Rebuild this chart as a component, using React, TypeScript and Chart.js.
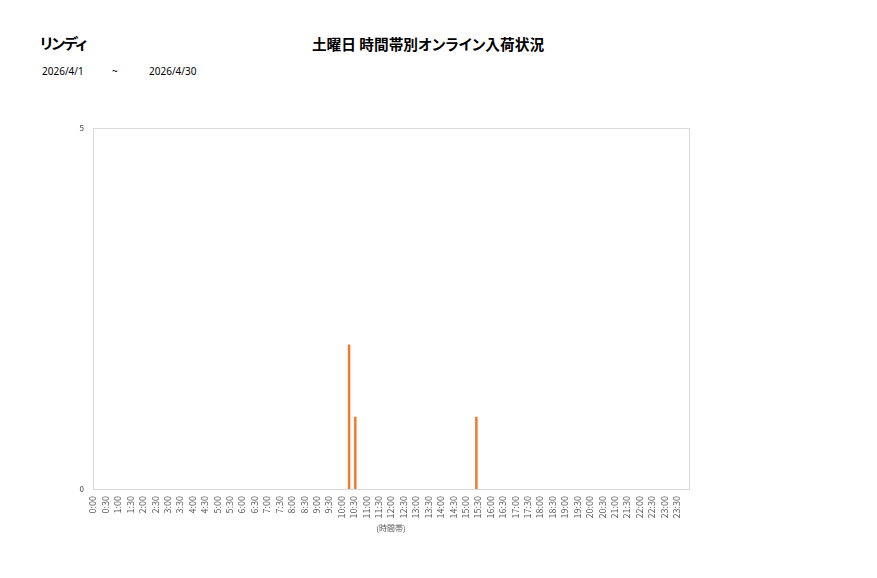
import { Chart, registerables } from "chart.js"
import React, { useEffect, useRef } from "react"

Chart.register(...registerables)

const shopName = "リンディ"
const chartTitle = "土曜日 時間帯別オンライン入荷状況"
const dateFrom = "2026/4/1"
const dateTo = "2026/4/30"
const axisTitle = "(時間帯)"

const timeLabels = [
  "0:00", "0:30", "1:00", "1:30", "2:00", "2:30", "3:00", "3:30",
  "4:00", "4:30", "5:00", "5:30", "6:00", "6:30", "7:00", "7:30",
  "8:00", "8:30", "9:00", "9:30", "10:00", "10:30", "11:00", "11:30",
  "12:00", "12:30", "13:00", "13:30", "14:00", "14:30", "15:00", "15:30",
  "16:00", "16:30", "17:00", "17:30", "18:00", "18:30", "19:00", "19:30",
  "20:00", "20:30", "21:00", "21:30", "22:00", "22:30", "23:00", "23:30",
]

// one series per Saturday in the period
const seriesNames = ["4/4", "4/11", "4/18", "4/25"]

const sat0404 = [
  0, 0, 0, 0, 0, 0, 0, 0, 0, 0, 0, 0, 0, 0, 0, 0,
  0, 0, 0, 0, 0, 1, 0, 0, 0, 0, 0, 0, 0, 0, 0, 0,
  0, 0, 0, 0, 0, 0, 0, 0, 0, 0, 0, 0, 0, 0, 0, 0,
]
const sat0411 = [
  0, 0, 0, 0, 0, 0, 0, 0, 0, 0, 0, 0, 0, 0, 0, 0,
  0, 0, 0, 0, 0, 0, 0, 0, 0, 0, 0, 0, 0, 0, 0, 0,
  0, 0, 0, 0, 0, 0, 0, 0, 0, 0, 0, 0, 0, 0, 0, 0,
]
const sat0418 = [
  0, 0, 0, 0, 0, 0, 0, 0, 0, 0, 0, 0, 0, 0, 0, 0,
  0, 0, 0, 0, 2, 0, 0, 0, 0, 0, 0, 0, 0, 0, 0, 0,
  0, 0, 0, 0, 0, 0, 0, 0, 0, 0, 0, 0, 0, 0, 0, 0,
]
const sat0425 = [
  0, 0, 0, 0, 0, 0, 0, 0, 0, 0, 0, 0, 0, 0, 0, 0,
  0, 0, 0, 0, 0, 0, 0, 0, 0, 0, 0, 0, 0, 0, 1, 0,
  0, 0, 0, 0, 0, 0, 0, 0, 0, 0, 0, 0, 0, 0, 0, 0,
]

const yMax = 5
const barColor = "#F07A2A"
const fontFamily = '"Noto Sans CJK JP", "Noto Sans", sans-serif'

const plotBorder = {
  id: "plotBorder",
  beforeDatasetsDraw(chart: Chart) {
    const { ctx, chartArea } = chart
    ctx.save()
    ctx.strokeStyle = "#d9d9d9"
    ctx.lineWidth = 1
    ctx.strokeRect(
      Math.round(chartArea.left) + 0.5,
      Math.round(chartArea.top) + 0.5,
      Math.round(chartArea.right - chartArea.left),
      Math.round(chartArea.bottom - chartArea.top)
    )
    ctx.restore()
  },
}

const App: React.FC = () => {
  const chartRef = useRef<HTMLCanvasElement>(null)
  const chartInstanceRef = useRef<Chart | null>(null)

  useEffect(() => {
    const ctx = chartRef.current?.getContext("2d")
    if (!ctx) return

    const series = [sat0404, sat0411, sat0418, sat0425]

    chartInstanceRef.current = new Chart(ctx, {
      type: "bar",
      data: {
        labels: timeLabels,
        datasets: series.map((data, i) => ({
          label: seriesNames[i],
          data,
          backgroundColor: barColor,
          barPercentage: 0.8,
          categoryPercentage: 1,
        })),
      },
      options: {
        animation: false,
        responsive: true,
        maintainAspectRatio: false,
        layout: { padding: { left: 0, top: 128, right: 188, bottom: 41 } },
        plugins: {
          legend: { display: false },
          title: { display: false },
          tooltip: { enabled: false },
        },
        scales: {
          x: {
            grid: { display: false, drawTicks: false },
            border: { display: false },
            ticks: {
              autoSkip: false,
              minRotation: 90,
              maxRotation: 90,
              padding: 7,
              labelOffset: -6.2,
              color: "#595959",
              font: { family: fontFamily, size: 9 },
            },
            title: {
              display: true,
              text: axisTitle,
              color: "#595959",
              font: { family: fontFamily, size: 8 },
              padding: { top: 4, bottom: 4 },
            },
            afterFit(scale) {
              scale.height = 48
            },
          },
          y: {
            min: 0,
            max: yMax,
            grid: { display: false, drawTicks: false },
            border: { display: false },
            ticks: {
              stepSize: yMax,
              padding: 9,
              color: "#404040",
              font: { family: fontFamily, size: 8 },
            },
            afterFit(scale) {
              scale.width = 93
            },
          },
        },
      },
      plugins: [plotBorder],
    })

    return () => {
      chartInstanceRef.current?.destroy()
    }
  }, [])

  return (
    <div
      style={{
        position: "absolute",
        left: 0,
        top: 0,
        width: 877,
        height: 578,
        background: "#fff",
        fontFamily,
        color: "#000",
      }}
    >
      <div
        style={{
          position: "absolute",
          left: 40,
          top: 35,
          fontSize: 15,
          fontWeight: "bold",
          lineHeight: "16px",
          letterSpacing: -1.5,
          fontFeatureSettings: '"palt"',
        }}
      >
        {shopName}
      </div>
      <div
        style={{
          position: "absolute",
          left: 0,
          width: 856,
          top: 36,
          textAlign: "center",
          fontSize: 14.7,
          fontWeight: "bold",
          lineHeight: "16px",
          fontFeatureSettings: '"palt"',
        }}
      >
        {chartTitle}
      </div>
      <div style={{ position: "absolute", left: 42, top: 65, fontSize: 10, lineHeight: "12px", fontFamily: '"Noto Sans", sans-serif' }}>
        {dateFrom}
      </div>
      <div style={{ position: "absolute", left: 112, top: 65, fontSize: 10, lineHeight: "12px", fontFamily: '"Noto Sans", sans-serif' }}>
        ~
      </div>
      <div style={{ position: "absolute", left: 149, top: 65, fontSize: 10, lineHeight: "12px", fontFamily: '"Noto Sans", sans-serif' }}>
        {dateTo}
      </div>
      <div style={{ position: "absolute", left: 0, top: 0, width: 877, height: 578 }}>
        <canvas ref={chartRef}></canvas>
      </div>
    </div>
  )
}

export default App
